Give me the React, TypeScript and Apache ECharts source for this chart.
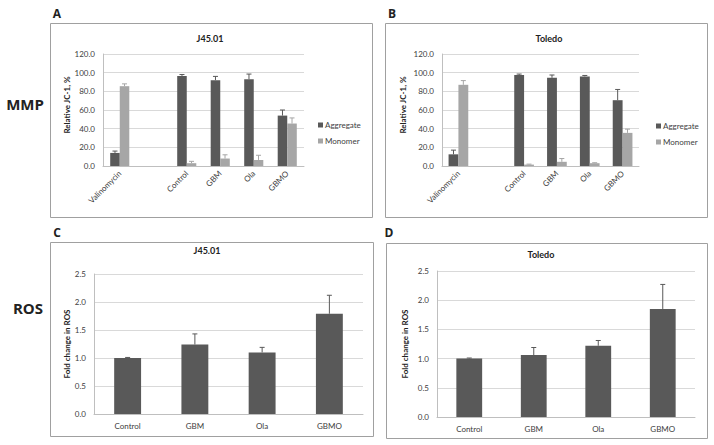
import React, { useEffect, useRef } from "react";
import * as echarts from "echarts";

const mmpCategories = ["Valinomycin", "", "Control", "GBM", "Ola", "GBMO"];
const aAggregate = [14, null, 96.5, 92, 93, 54];
const aAggregateErr = [2, null, 1.5, 4, 5.5, 6];
const aMonomer = [85.5, null, 3, 8, 6.5, 45.5];
const aMonomerErr = [2.5, null, 2, 4, 5, 6];
const bAggregate = [12.5, null, 97.5, 94.5, 96, 70.5];
const bAggregateErr = [4.5, null, 1, 3, 1, 11.5];
const bMonomer = [87, null, 1.5, 4.5, 3, 35.5];
const bMonomerErr = [4.5, null, 0.5, 3.5, 0.5, 4];

const rosCategories = ["Control", "GBM", "Ola", "GBMO"];
const cValues = [1.0, 1.24, 1.1, 1.79];
const cErr = [0.01, 0.19, 0.09, 0.33];
const dValues = [1.0, 1.06, 1.22, 1.85];
const dErr = [0.01, 0.13, 0.09, 0.42];

const DARK = "#595959";
const LIGHT = "#a6a6a6";
const FONT = "Lato, 'Open Sans', sans-serif";
const AXIS_TXT = "#404040";

export default function App() {
  const ref = useRef<HTMLDivElement>(null);
  useEffect(() => {
    document.body.style.margin = "0";
    const chart = echarts.init(ref.current!, null, { renderer: "svg" });

    const grids = [
      { left: 103, top: 54, width: 201, height: 112 },
      { left: 442, top: 54, width: 197, height: 112 },
      { left: 94, top: 274, width: 269, height: 140 },
      { left: 437, top: 271, width: 258, height: 146 },
    ];

    const xAxisBase = (idx: number, data: string[], rotate: number) => ({
      type: "category",
      gridIndex: idx,
      data,
      axisTick: { show: false },
      axisLine: { lineStyle: { color: "#bfbfbf" } },
      axisLabel: {
        rotate,
        interval: 0,
        fontSize: 8,
        fontFamily: FONT,
        color: AXIS_TXT,
        margin: rotate ? 6 : 8,
      },
    });
    const yAxisBase = (idx: number, max: number, interval: number) => ({
      type: "value",
      gridIndex: idx,
      min: 0,
      max,
      interval,
      axisLine: { show: true, lineStyle: { color: "#bfbfbf" } },
      axisTick: { show: false },
      splitLine: { lineStyle: { color: "#d9d9d9" } },
      axisLabel: {
        fontSize: 8,
        fontFamily: FONT,
        color: AXIS_TXT,
        margin: 8,
        formatter: (v: number) => v.toFixed(1),
      },
    });

    const errSeries = (
      idx: number,
      vals: (number | null)[],
      errs: (number | null)[],
      offset: number,
      gap: number,
      groups: number,
      color: string
    ) => ({
      type: "custom",
      xAxisIndex: idx,
      yAxisIndex: idx,
      silent: true,
      z: 5,
      data: vals
        .map((v, i) => (v == null ? null : [i, v, errs[i]]))
        .filter((d) => d != null),
      renderItem: (params: any, api: any) => {
        const cat = api.value(0);
        const v = api.value(1);
        const e = api.value(2);
        const base = api.coord([cat, v]);
        const top = api.coord([cat, v + e]);
        const catW = api.size([1, 0])[0];
        const bw = (catW * (1 - gap)) / groups;
        const x = base[0] + (offset * bw) / 2;
        const style = { stroke: color, lineWidth: 1 };
        return {
          type: "group",
          children: [
            { type: "line", shape: { x1: x, y1: base[1], x2: x, y2: top[1] }, style },
            { type: "line", shape: { x1: x - 2.5, y1: top[1], x2: x + 2.5, y2: top[1] }, style },
          ],
        };
      },
    });

    const mmpBars = (idx: number, agg: any[], mon: any[], gap: number) => [
      {
        name: "Aggregate",
        type: "bar",
        xAxisIndex: idx,
        yAxisIndex: idx,
        data: agg,
        barGap: "0%",
        barCategoryGap: `${gap * 100}%`,
        itemStyle: { color: DARK },
      },
      {
        name: "Monomer",
        type: "bar",
        xAxisIndex: idx,
        yAxisIndex: idx,
        data: mon,
        barGap: "0%",
        barCategoryGap: `${gap * 100}%`,
        itemStyle: { color: LIGHT },
      },
    ];

    const gapA = 0.43;
    const gapB = 0.4;
    const gapR = 0.6;

    const txt = (
      x: number,
      y: number,
      text: string,
      size: number,
      opts: any = {}
    ) => ({
      type: "text",
      x,
      y,
      rotation: opts.rotation || 0,
      style: {
        text,
        fontSize: size,
        fontWeight: opts.bold === false ? "normal" : "bold",
        fontFamily: opts.font || FONT,
        fill: opts.color || "#222",
        align: opts.align || "center",
        verticalAlign: "middle",
      },
    });

    const frame = (x1: number, y1: number, x2: number, y2: number) => ({
      type: "rect",
      shape: { x: x1 + 0.5, y: y1 + 0.5, width: x2 - x1, height: y2 - y1 },
      style: { fill: "none", stroke: "#a0a0a0", lineWidth: 1 },
      silent: true,
    });

    chart.setOption({
      animation: false,
      backgroundColor: "#ffffff",
      grid: grids,
      xAxis: [
        xAxisBase(0, mmpCategories, 45),
        xAxisBase(1, mmpCategories, 45),
        xAxisBase(2, rosCategories, 0),
        xAxisBase(3, rosCategories, 0),
      ],
      yAxis: [
        yAxisBase(0, 120, 20),
        yAxisBase(1, 120, 20),
        yAxisBase(2, 2.5, 0.5),
        yAxisBase(3, 2.5, 0.5),
      ],
      legend: [
        {
          orient: "vertical",
          left: 313,
          top: 116,
          itemWidth: 5,
          itemHeight: 5,
          itemGap: 8,
          icon: "rect",
          data: ["Aggregate", "Monomer"],
          textStyle: { fontSize: 8, fontFamily: FONT, color: AXIS_TXT, padding: [0, 0, 0, -3] },
          selectedMode: false,
        },
        {
          orient: "vertical",
          left: 651,
          top: 117,
          itemWidth: 5,
          itemHeight: 5,
          itemGap: 8,
          icon: "rect",
          data: ["Aggregate", "Monomer"],
          textStyle: { fontSize: 8, fontFamily: FONT, color: AXIS_TXT, padding: [0, 0, 0, -3] },
          selectedMode: false,
        },
      ],
      series: [
        ...mmpBars(0, aAggregate, aMonomer, gapA),
        ...mmpBars(1, bAggregate, bMonomer, gapB),
        {
          type: "bar",
          xAxisIndex: 2,
          yAxisIndex: 2,
          data: cValues,
          barCategoryGap: `${gapR * 100}%`,
          itemStyle: { color: DARK },
        },
        {
          type: "bar",
          xAxisIndex: 3,
          yAxisIndex: 3,
          data: dValues,
          barCategoryGap: `${gapR * 100}%`,
          itemStyle: { color: DARK },
        },
        errSeries(0, aAggregate, aAggregateErr, -1, gapA, 2, DARK),
        errSeries(0, aMonomer, aMonomerErr, 1, gapA, 2, LIGHT),
        errSeries(1, bAggregate, bAggregateErr, -1, gapB, 2, DARK),
        errSeries(1, bMonomer, bMonomerErr, 1, gapB, 2, LIGHT),
        errSeries(2, cValues, cErr, 0, gapR, 1, DARK),
        errSeries(3, dValues, dErr, 0, gapR, 1, DARK),
      ],
      graphic: [
        frame(50, 23, 372, 217),
        frame(385, 23, 707, 217),
        frame(50, 242, 373, 436),
        frame(386, 243, 707, 438),
        txt(57, 13, "A", 12, { font: "'Open Sans', sans-serif" }),
        txt(392, 13, "B", 12, { font: "'Open Sans', sans-serif" }),
        txt(57, 232, "C", 12, { font: "'Open Sans', sans-serif" }),
        txt(389, 232, "D", 12, { font: "'Open Sans', sans-serif" }),
        txt(25, 104, "MMP", 15, { font: "'Open Sans', sans-serif" }),
        txt(28, 308, "ROS", 15, { font: "'Open Sans', sans-serif" }),
        txt(210, 38, "J45.01", 9),
        txt(549, 38, "Toledo", 9),
        txt(207, 250, "J45.01", 9),
        txt(541, 254, "Toledo", 9),
        txt(67, 105, "Relative JC-1, %", 8, { rotation: Math.PI / 2 }),
        txt(403, 105, "Relative JC-1, %", 8, { rotation: Math.PI / 2 }),
        txt(67, 344, "Fold change in ROS", 8, { rotation: Math.PI / 2 }),
        txt(405, 344, "Fold change in ROS", 8, { rotation: Math.PI / 2 }),
      ],
    });
    return () => chart.dispose();
  }, []);
  return <div ref={ref} style={{ width: 714, height: 445 }} />;
}
